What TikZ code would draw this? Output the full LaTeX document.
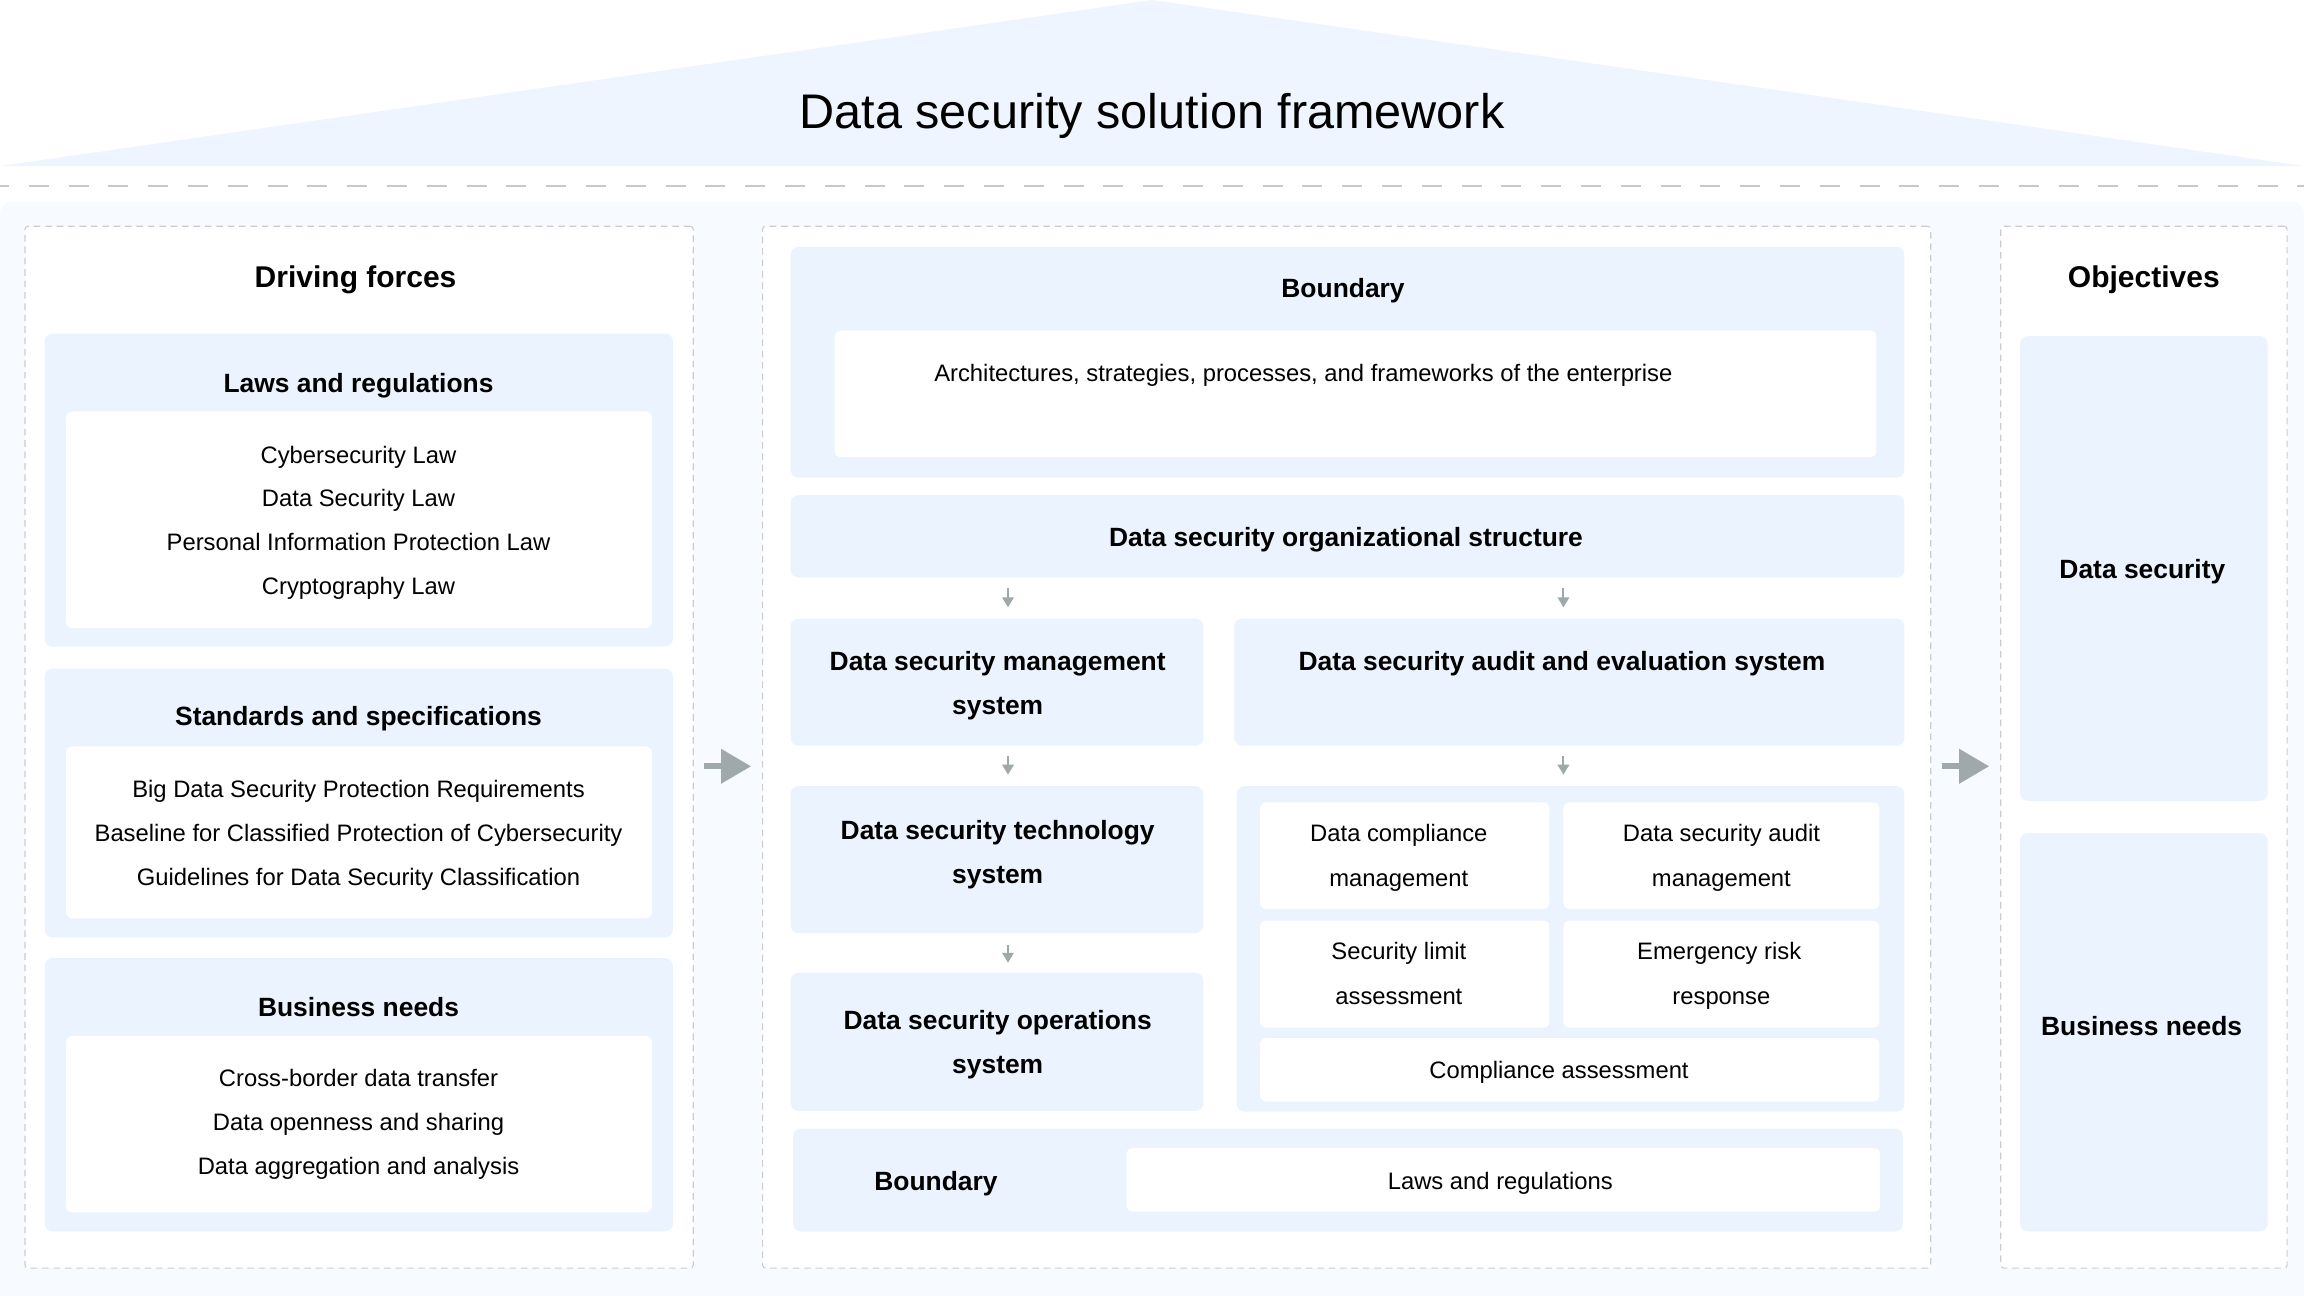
\documentclass[tikz,border=0pt]{standalone}
\usepackage{fontspec}
\setmainfont{Liberation Sans}
\usetikzlibrary{arrows.meta,calc,fit}
\definecolor{roof}{HTML}{EEF5FE}
\definecolor{bgl}{HTML}{F7FAFE}
\definecolor{lb}{HTML}{EBF3FE}
\definecolor{dashc}{HTML}{CCCCCC}
\definecolor{sepc}{HTML}{C8C8C8}
\definecolor{arr}{HTML}{A0A9AA}
\begin{document}
\begin{tikzpicture}[x=0.7347pt,y=-0.7347pt,
 panel/.style={draw=dashc, line width=0.55pt, dash pattern=on 3.3pt off 2.4pt, fill=white, rounded corners=1.5pt, inner sep=0pt},
 lbox/.style={fill=lb, rounded corners=4pt, inner sep=0pt},
 wbox/.style={fill=white, rounded corners=3pt, inner sep=0pt},
 body/.style={font=\fontsize{11.9}{14}\selectfont, anchor=base, inner sep=0pt},
 head/.style={font=\fontsize{13.2}{16}\selectfont\bfseries, anchor=base, inner sep=0pt},
 bighead/.style={font=\fontsize{15}{18}\selectfont\bfseries, anchor=base, inner sep=0pt},
 bigarrow/.style={draw=arr, line width=2.9pt, -{Triangle[length=15pt,width=16.7pt]}},
 smallarrow/.style={draw=arr, line width=1pt, -{Triangle[length=5pt,width=5.7pt]}},
]
\useasboundingbox (0,0) rectangle (1568,882);
% roof and title
\fill[roof] (0,113) -- (784,0) -- (1568,113) -- cycle;
\node[font=\fontsize{24.3}{29}\selectfont, anchor=base, inner sep=0pt] (title) at (784,87.4) {Data security solution framework};
\draw[draw=sepc, line width=0.85pt, dash pattern=on 10pt off 9.9pt, dash phase=5.5pt] (0,126.5) -- (1568,126.5);
% light background
\fill[bgl, rounded corners=6pt] (0,137) rectangle (1568,900);
% panels
\node[panel, fit={(17,154) (471.8,863)}] (pl) {};
\node[panel, fit={(519,154) (1314,863)}] (pm) {};
\node[panel, fit={(1361.6,154) (1556.5,863)}] (pr) {};
% left panel
\node[bighead] (hdrive) at (242,195.8) {Driving forces};
\node[lbox, fit={(30.4,227) (458,440)}] (law) {};
\node[wbox, fit={(45,280) (443.6,427.5)}] (lawi) {};
\node[head] (hlaw) at (244,267) {Laws and regulations};
\node[body] (l1) at (244,315.3) {Cybersecurity Law};
\node[body] (l2) at (244,344.8) {Data Security Law};
\node[body] (l3) at (244,374.5) {Personal Information Protection Law};
\node[body] (l4) at (244,404.3) {Cryptography Law};
\node[lbox, fit={(30.4,455) (458,638)}] (std) {};
\node[wbox, fit={(45,508) (443.6,625)}] (stdi) {};
\node[head] (hstd) at (244,493.5) {Standards and specifications};
\node[body] (s1) at (244,542.5) {Big Data Security Protection Requirements};
\node[body] (s2) at (244,572.5) {Baseline for Classified Protection of Cybersecurity};
\node[body] (s3) at (244,602.5) {Guidelines for Data Security Classification};
\node[lbox, fit={(30.4,652) (458,838)}] (bus) {};
\node[wbox, fit={(45,705) (443.6,825)}] (busi) {};
\node[head] (hbus) at (244,691.5) {Business needs};
\node[body] (b1) at (244,739.5) {Cross-border data transfer};
\node[body] (b2) at (244,769.5) {Data openness and sharing};
\node[body] (b3) at (244,799.5) {Data aggregation and analysis};
% middle panel
\node[lbox, fit={(538,168) (1296,325)}] (bt) {};
\node[wbox, fit={(568,225) (1277,311)}] (bti) {};
\node[head] (hbt) at (914,202.5) {Boundary};
\node[body] (arch) at (887,259.5) {Architectures, strategies, processes, and frameworks of the enterprise};
\node[lbox, fit={(538,337) (1296,393)}] (org) {};
\node[head] (horg) at (916,372) {Data security organizational structure};
\node[lbox, fit={(538,421) (819,507.5)}] (mgmt) {};
\node[head] (hm1) at (679,456) {Data security management};
\node[head] (hm2) at (679,486) {system};
\node[lbox, fit={(840,421) (1296,507.5)}] (audit) {};
\node[head] (ha) at (1063,456) {Data security audit and evaluation system};
\node[lbox, fit={(538,535) (819,635)}] (tech) {};
\node[head] (ht1) at (679,571.5) {Data security technology};
\node[head] (ht2) at (679,601.5) {system};
\node[lbox, fit={(538,662) (819,756)}] (ops) {};
\node[head] (ho1) at (679,700.5) {Data security operations};
\node[head] (ho2) at (679,730.5) {system};
\node[lbox, fit={(841.6,535) (1296,756.5)}] (auditc) {};
\node[wbox, fit={(857.6,546) (1054.5,618.6)}] (c1) {};
\node[wbox, fit={(1064,546) (1279,618.6)}] (c2) {};
\node[wbox, fit={(857.6,626.5) (1054.5,699.4)}] (c3) {};
\node[wbox, fit={(1064,626.5) (1279,699.4)}] (c4) {};
\node[wbox, fit={(857.6,706.5) (1279,749.7)}] (c5) {};
\node[body] (c1a) at (952,573) {Data compliance};
\node[body] (c1b) at (952,603) {management};
\node[body] (c2a) at (1171.5,573) {Data security audit};
\node[body] (c2b) at (1171.5,603) {management};
\node[body] (c3a) at (952,653.3) {Security limit};
\node[body] (c3b) at (952,683.5) {assessment};
\node[body] (c4a) at (1170,653.3) {Emergency risk};
\node[body] (c4b) at (1171.5,683.5) {response};
\node[body] (c5a) at (1061,733.9) {Compliance assessment};
\node[lbox, fit={(539.8,768) (1295,838.2)}] (bb) {};
\node[wbox, fit={(766.7,781.4) (1279.5,824.6)}] (bbi) {};
\node[head] (hbb) at (637,810) {Boundary};
\node[body] (bblaw) at (1021,809.5) {Laws and regulations};
% right panel
\node[bighead] (hobj) at (1459,195.8) {Objectives};
\node[lbox, fit={(1374.7,228.7) (1543.3,545)}] (ods) {};
\node[head] (hods) at (1458,393.6) {Data security};
\node[lbox, fit={(1374.7,567) (1543.3,838)}] (obn) {};
\node[head] (hobn) at (1457.5,704.5) {Business needs};
% connectors
\draw[bigarrow] ($(pl.east)+(7,13)$) -- ($(pm.west)+(-7.5,13)$);
\draw[bigarrow] ($(pm.east)+(7,13)$) -- ($(pr.west)+(-7.5,13)$);
\draw[smallarrow] ($(org.south -| mgmt.north)+(7.5,7)$) -- ($(mgmt.north)+(7.5,-7.4)$);
\draw[smallarrow] ($(org.south -| audit.north)+(-4,7)$) -- ($(audit.north)+(-4,-7.4)$);
\draw[smallarrow] ($(mgmt.south)+(7.5,7)$) -- ($(tech.north)+(7.5,-7.5)$);
\draw[smallarrow] ($(audit.south)+(-4,7)$) -- ($(auditc.north -| audit.south)+(-4,-7.5)$);
\draw[smallarrow] ($(tech.south)+(7.5,8)$) -- ($(ops.north)+(7.5,-6.5)$);
\end{tikzpicture}
\end{document}
